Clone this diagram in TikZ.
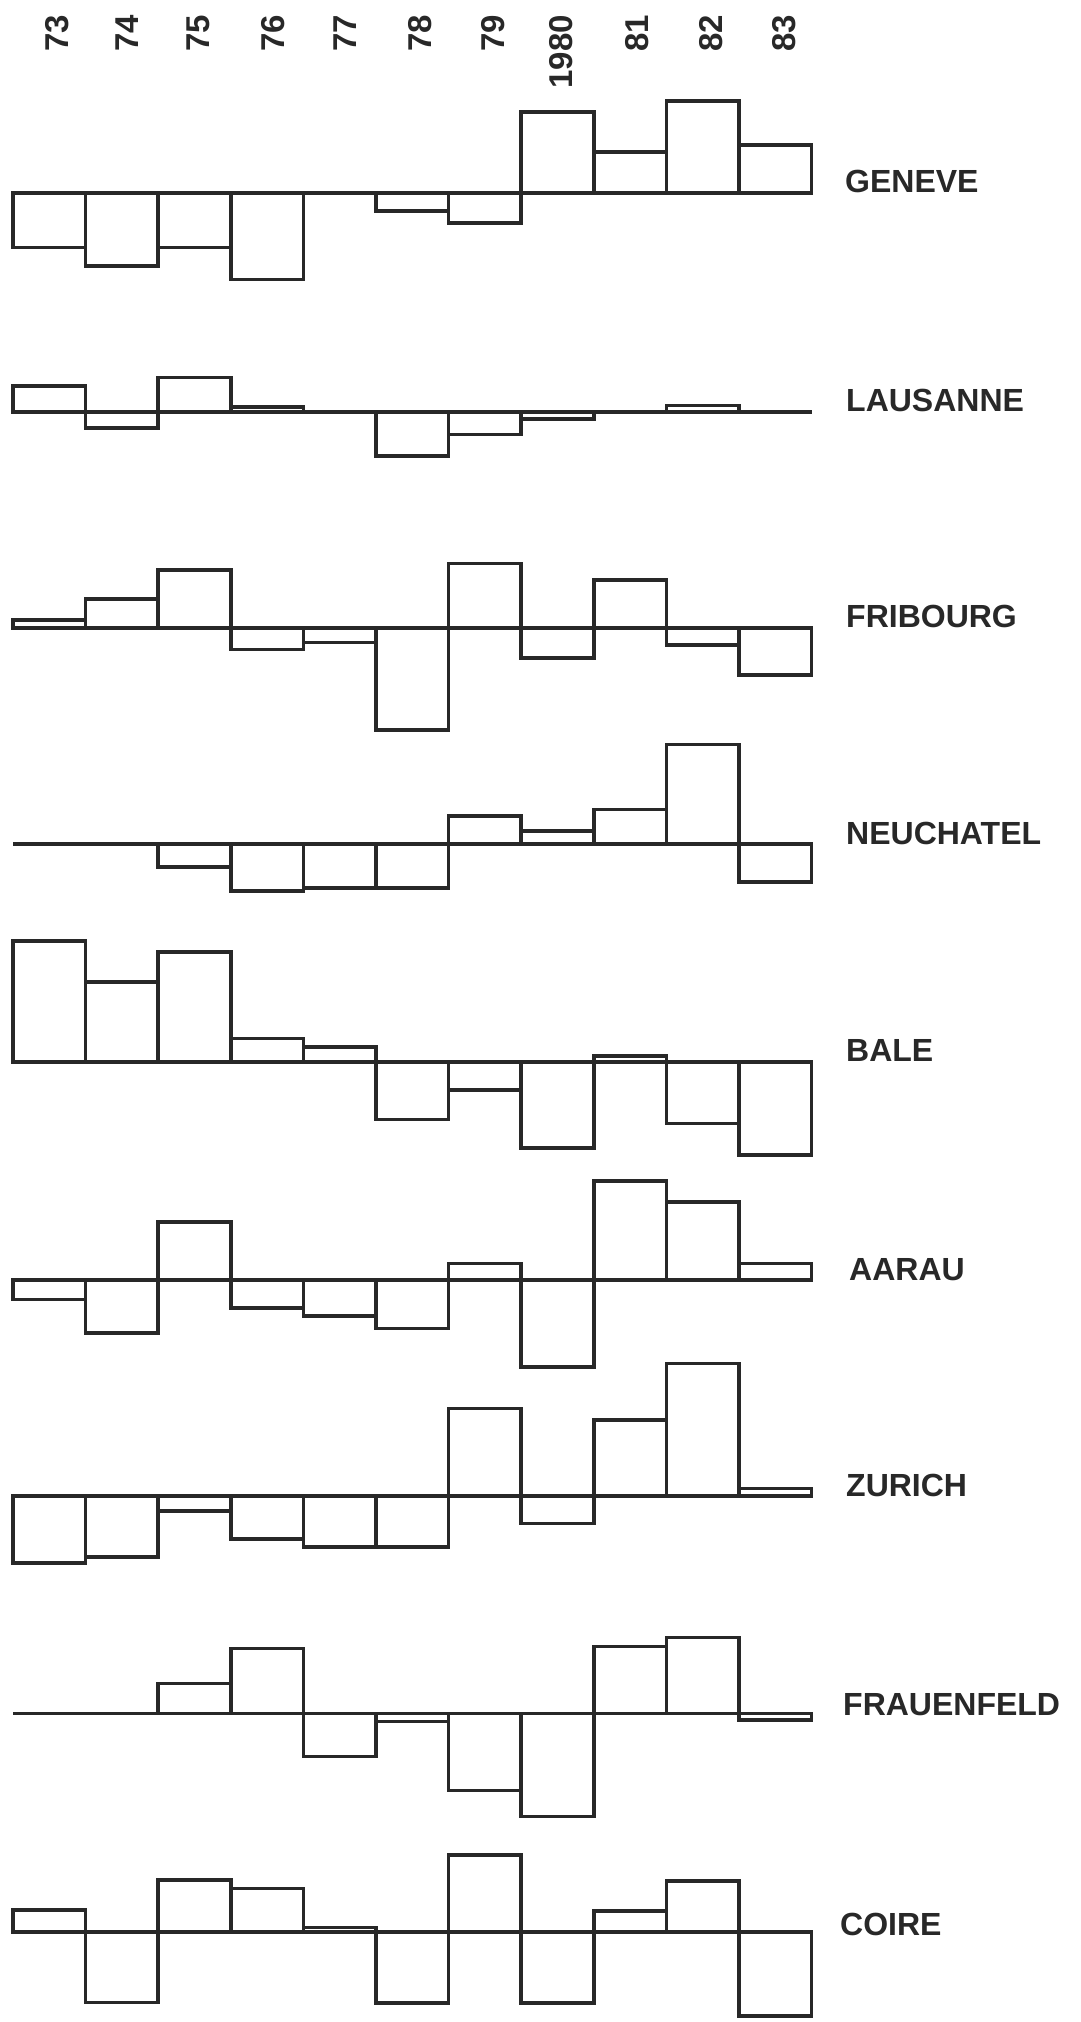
\documentclass[tikz,border=0pt]{standalone}
\usepackage{fontspec}
\setmainfont{Liberation Sans}
\definecolor{ink}{RGB}{40,40,40}
\tikzset{
  chartline/.style={draw=ink, line width=3.6pt, line join=miter},
  yearlabel/.style={text=ink, inner sep=0pt, rotate=90, anchor=east, font=\fontsize{33}{38}\selectfont\bfseries},
  citylabel/.style={text=ink, inner sep=0pt, anchor=base west, font=\fontsize{32}{38}\selectfont\bfseries}
}
% #1 name, #2 baseline y, #3 values, #4 label x, #5 label baseline y
\newcommand\citychart[5]{%
  \draw[chartline] (13,#2) -- (812,#2);
  \foreach \v [count=\i from 0] in {#3} {
    \pgfmathsetmacro\xa{13+72.6*\i}
    \pgfmathsetmacro\xb{85.6+72.6*\i}
    \pgfmathsetmacro\yt{#2-(\v)}
    \draw[chartline] (\xa,#2) rectangle (\xb,\yt);
  }
  \node[citylabel] (city-#1) at (#4,#5) {#1};
}
\begin{document}
\begin{tikzpicture}[x=1pt,y=-1pt]
\useasboundingbox (0,0) rectangle (1080,2022);
\fill[white] (0,0) rectangle (1080,2022);
% year labels
\foreach \yr/\xx in {73/57,74/127.5,75/198.5,76/273,77/345,78/420,79/493,1980/561,81/637,82/711.5,83/784.5}{
  \node[yearlabel] (year-\yr) at (\xx,15) {\yr};
}
\citychart{GENEVE}{192.7}{-54.7,-73,-54.7,-86.7,0,-18.3,-30,81,41,92,47.7}{845}{192.7}
\citychart{LAUSANNE}{411.7}{25.7,-16,34.3,5,0,-44,-22.7,-7.3,0,6.3,0}{846}{411.7}
\citychart{FRIBOURG}{627.7}{7.7,28.7,57.7,-21.7,-14.7,-102.3,64.3,-30,47.7,-17.3,-47.3}{846}{627.7}
\citychart{NEUCHATEL}{844}{0,0,-22.7,-47,-43.7,-43.7,28.3,13.3,34.7,99.7,-37.7}{846}{844}
\citychart{BALE}{1061.7}{120.7,80,110,23.3,15,-57.7,-28.3,-86,6,-61.7,-93.3}{846}{1061.7}
\citychart{AARAU}{1280}{-19.3,-52.7,58.3,-27.7,-35.7,-48.3,16.7,-86.7,99.3,78.3,16.7}{849}{1280}
\citychart{ZURICH}{1496}{-66.7,-60.7,-15,-43,-50.7,-50.7,87.7,-27.3,76,132.7,7.7}{846}{1496}
\citychart{FRAUENFELD}{1713.3}{0,0,30,65,-43.3,-8.3,-77.3,-103.3,66.7,76,-6.7}{843}{1715}
\citychart{COIRE}{1931.7}{21.7,-70.7,51.7,43.3,4.3,-71,76.7,-71,21,51,-84.3}{840}{1935}
\end{tikzpicture}
\end{document}
